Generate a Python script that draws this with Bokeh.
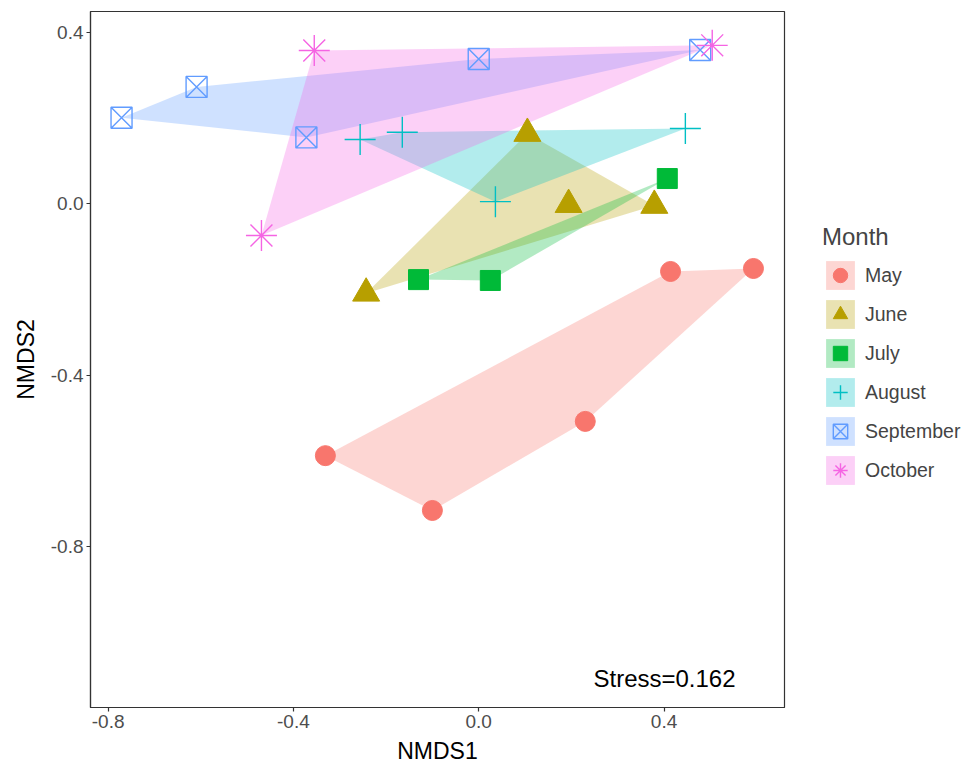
from bokeh.plotting import figure
from bokeh.models import (Legend, LegendItem, FixedTicker, PrintfTickFormatter, Label, Range1d)
from bokeh.embed import file_html
from bokeh.resources import INLINE

# ---- data ----
months = ["May", "June", "July", "August", "September", "October"]
may_x = [-0.331, -0.100, 0.230, 0.414, 0.593]
may_y = [-0.588, -0.716, -0.508, -0.158, -0.151]
june_x = [-0.243, 0.105, 0.194, 0.379]
june_y = [-0.209, 0.164, -0.002, -0.004]
july_x = [-0.130, 0.025, 0.407]
july_y = [-0.177, -0.179, 0.059]
aug_x = [-0.256, -0.165, 0.036, 0.446]
aug_y = [0.150, 0.167, 0.005, 0.176]
sep_x = [-0.771, -0.609, -0.372, 0.000, 0.478]
sep_y = [0.201, 0.273, 0.155, 0.338, 0.359]
oct_x = [-0.355, -0.469, 0.504]
oct_y = [0.358, -0.074, 0.370]
x_ticks = [-0.8, -0.4, 0.0, 0.4]
y_ticks = [-0.8, -0.4, 0.0, 0.4]
stress_text = "Stress=0.162"

series_x = [may_x, june_x, july_x, aug_x, sep_x, oct_x]
series_y = [may_y, june_y, july_y, aug_y, sep_y, oct_y]
colors = ["#F8766D", "#B79F00", "#00BA38", "#00BFC4", "#619CFF", "#F564E3"]
markers = ["circle", "triangle", "square", "cross", "square_x", "asterisk"]
sizes = [20, 27, 20, 31, 21, 31]


def hull(xs, ys):
    pts = sorted(set(zip(xs, ys)))
    if len(pts) <= 2:
        return pts

    def cross(o, a, b):
        return (a[0] - o[0]) * (b[1] - o[1]) - (a[1] - o[1]) * (b[0] - o[0])

    lower = []
    for p in pts:
        while len(lower) >= 2 and cross(lower[-2], lower[-1], p) <= 0:
            lower.pop()
        lower.append(p)
    upper = []
    for p in reversed(pts):
        while len(upper) >= 2 and cross(upper[-2], upper[-1], p) <= 0:
            upper.pop()
        upper.append(p)
    return lower[:-1] + upper[:-1]


FONT = "Liberation Sans"

p = figure(frame_width=694, frame_height=696, output_backend="svg", toolbar_location=None,
           x_range=Range1d(-0.838, 0.660), y_range=Range1d(-1.176, 0.449),
           min_border_left=90, min_border_top=11, min_border_bottom=56, min_border_right=190,
           x_axis_label="NMDS1", y_axis_label="NMDS2")
p.grid.visible = False
p.outline_line_color = "#333333"
p.outline_line_width = 1.2
p.background_fill_color = "white"

for ax, ticks in ((p.xaxis, x_ticks), (p.yaxis, y_ticks)):
    ax.ticker = FixedTicker(ticks=ticks)
    ax.formatter = PrintfTickFormatter(format="%.1f")
    ax.minor_tick_line_color = None
    ax.major_tick_in = 0
    ax.major_tick_out = 4
    ax.major_tick_line_color = "#333333"
    ax.major_tick_line_width = 1.2
    ax.axis_line_color = "#333333"
    ax.axis_line_width = 1.2
    ax.major_label_text_font = FONT
    ax.major_label_text_font_size = "19px"
    ax.major_label_text_color = "#4D4D4D"
    ax.axis_label_text_font = FONT
    ax.axis_label_text_font_size = "23px"
    ax.axis_label_text_font_style = "normal"
    ax.axis_label_text_color = "black"
    ax.major_label_standoff = 3
p.xaxis.axis_label_standoff = 7
p.yaxis.axis_label_standoff = 9

patch_renderers = []
for xs, ys, c in zip(series_x, series_y, colors):
    h = hull(xs, ys)
    r = p.patch([q[0] for q in h], [q[1] for q in h], fill_color=c, fill_alpha=0.3, line_color=None)
    patch_renderers.append(r)

scatter_renderers = []
for xs, ys, c, m, s in zip(series_x, series_y, colors, markers, sizes):
    if m in ("cross", "square_x", "asterisk"):
        r = p.scatter(xs, ys, marker=m, size=s, line_color=c, fill_color=None, line_width=1.4)
    else:
        r = p.scatter(xs, ys, marker=m, size=s, fill_color=c, line_color=c, line_width=1)
    scatter_renderers.append(r)

items = [LegendItem(label=mo, renderers=[pr, sr]) for mo, pr, sr in zip(months, patch_renderers, scatter_renderers)]
legend = Legend(items=items, title="Month", location=(38, 219),
                glyph_width=36, glyph_height=36, spacing=3, label_standoff=7,
                margin=0, padding=4, border_line_color=None, background_fill_alpha=0,
                label_text_font=FONT, label_text_font_size="19.5px",
                title_text_font=FONT, title_text_font_size="24px", title_text_font_style="normal",
                title_standoff=6)
p.add_layout(legend, "right")

p.add_layout(Label(x=0.401, y=-1.108, text=stress_text, text_align="center", text_baseline="middle",
                   text_font=FONT, text_font_size="24px", text_color="black"))

open("out.html", "w").write(file_html(p, INLINE))
